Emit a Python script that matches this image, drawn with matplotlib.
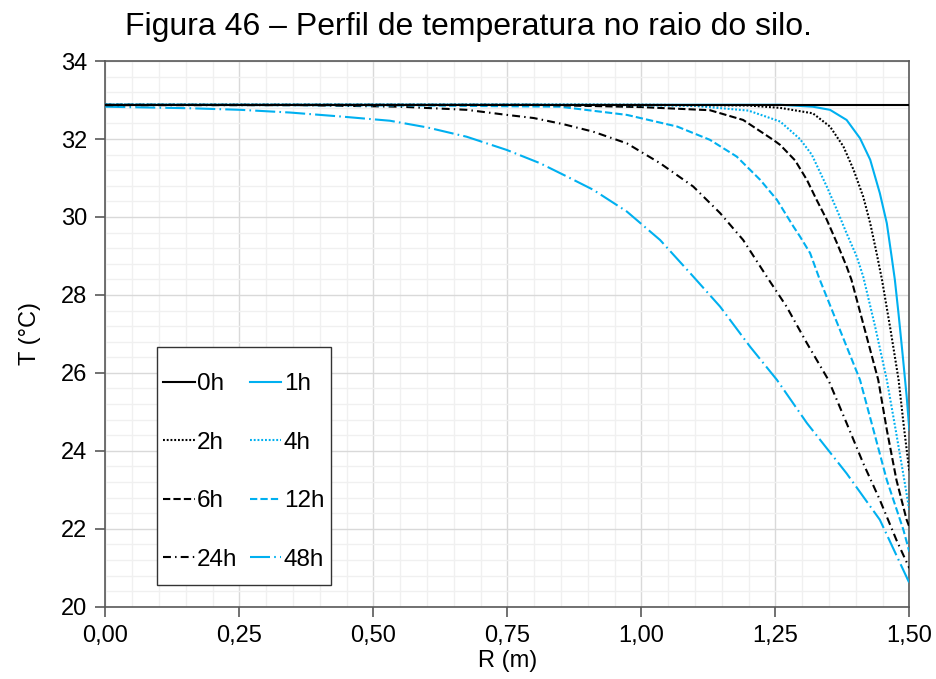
import matplotlib
matplotlib.use("Agg")
import matplotlib.pyplot as plt
from matplotlib.patches import Rectangle
from matplotlib.ticker import MultipleLocator

plt.rcParams['font.family'] = ['Liberation Sans', 'DejaVu Sans']

# Temperature profiles T(r) along the silo radius, one per elapsed time
r_0h = [0.0, 1.5]
t_0h = [32.88, 32.88]

r_1h = [0.0, 1.0, 1.259, 1.320, 1.352, 1.383, 1.408, 1.427, 1.445, 1.458, 1.467, 1.473, 1.480, 1.488, 1.495, 1.5]
t_1h = [32.88, 32.88, 32.88, 32.83, 32.75, 32.49, 32.02, 31.47, 30.61, 29.84, 28.98, 28.39, 27.50, 26.40, 25.40, 24.54]

r_2h = [0.0, 1.0, 1.2, 1.259, 1.320, 1.352, 1.377, 1.396, 1.414, 1.427, 1.439, 1.449, 1.465, 1.480, 1.490, 1.5]
t_2h = [32.88, 32.88, 32.86, 32.80, 32.66, 32.32, 31.81, 31.21, 30.52, 29.84, 29.07, 28.39, 27.10, 25.82, 24.60, 23.47]

r_4h = [0.0, 0.9, 1.1, 1.2, 1.259, 1.296, 1.318, 1.346, 1.365, 1.383, 1.402, 1.414, 1.436, 1.458, 1.475, 1.490, 1.5]
t_4h = [32.88, 32.88, 32.85, 32.73, 32.45, 32.00, 31.60, 30.78, 30.18, 29.58, 28.98, 28.47, 27.20, 25.82, 24.50, 23.30, 22.48]

r_6h = [0.0, 0.8, 1.0, 1.128, 1.190, 1.246, 1.259, 1.287, 1.309, 1.327, 1.346, 1.365, 1.383, 1.392, 1.442, 1.458, 1.476, 1.495, 1.5]
t_6h = [32.88, 32.88, 32.82, 32.74, 32.49, 31.98, 31.85, 31.45, 30.95, 30.44, 29.93, 29.33, 28.73, 28.39, 25.82, 24.54, 23.25, 22.23, 22.05]

r_12h = [0.0, 0.6, 0.848, 0.973, 1.067, 1.128, 1.178, 1.222, 1.253, 1.284, 1.296, 1.315, 1.333, 1.408, 1.433, 1.458, 1.489, 1.5]
t_12h = [32.88, 32.86, 32.83, 32.62, 32.32, 31.98, 31.55, 30.95, 30.44, 29.75, 29.50, 29.07, 28.39, 25.82, 24.54, 23.25, 21.97, 21.41]

r_24h = [0.0, 0.363, 0.550, 0.674, 0.749, 0.799, 0.855, 0.910, 0.973, 1.035, 1.097, 1.147, 1.190, 1.234, 1.271, 1.309,
         1.349, 1.383, 1.414, 1.445, 1.476, 1.5]
t_24h = [32.87, 32.87, 32.83, 32.75, 32.62, 32.54, 32.38, 32.19, 31.89, 31.38, 30.78, 30.10, 29.41, 28.47, 27.70, 26.76,
         25.82, 24.71, 23.68, 22.74, 21.71, 20.99]

r_48h = [0.0, 0.159, 0.252, 0.345, 0.438, 0.531, 0.600, 0.674, 0.749, 0.811, 0.861, 0.910, 0.973, 1.035, 1.097, 1.147,
         1.203, 1.253, 1.309, 1.383, 1.445, 1.5]
t_48h = [32.83, 32.79, 32.75, 32.68, 32.58, 32.47, 32.30, 32.06, 31.72, 31.38, 31.04, 30.70, 30.14, 29.41, 28.47, 27.70,
         26.67, 25.82, 24.71, 23.42, 22.23, 20.61]

x_ticks = [0.0, 0.25, 0.5, 0.75, 1.0, 1.25, 1.5]
x_ticklabels = ["0,00", "0,25", "0,50", "0,75", "1,00", "1,25", "1,50"]
y_ticks = [20, 22, 24, 26, 28, 30, 32, 34]

BLACK = "#000000"
BLUE = "#00B0F0"
LW = 1.5

series = [
    ("0h", r_0h, t_0h, BLACK, "-"),
    ("1h", r_1h, t_1h, BLUE, "-"),
    ("2h", r_2h, t_2h, BLACK, (0, (0.9, 0.9))),
    ("4h", r_4h, t_4h, BLUE, (0, (0.9, 0.9))),
    ("6h", r_6h, t_6h, BLACK, (0, (3.5, 1.5))),
    ("12h", r_12h, t_12h, BLUE, (0, (3.5, 1.5))),
    ("24h", r_24h, t_24h, BLACK, (0, (3.8, 2.0, 0.7, 2.0))),
    ("48h", r_48h, t_48h, BLUE, (0, (9.6, 2.0, 0.8, 2.0))),
]

fig = plt.figure(figsize=(9.36, 6.79), dpi=100)
ax = fig.add_axes([0.1125, 0.1065, 0.859, 0.8035])

# Drawing in reverse keeps the early profiles on top, as in the flat region
for i, (lab, r, t, c, ls) in enumerate(reversed(series)):
    ax.plot(r, t, color=c, lw=LW, linestyle=ls, label=lab, zorder=3 + i)

ax.set_xlim(0, 1.5)
ax.set_ylim(20, 34)
ax.set_xticks(x_ticks)
ax.set_xticklabels(x_ticklabels)
ax.set_yticks(y_ticks)
ax.xaxis.set_minor_locator(MultipleLocator(0.05))
ax.yaxis.set_minor_locator(MultipleLocator(0.4))
ax.grid(which="minor", color="#f0f0f0", lw=1.0, zorder=0)
ax.grid(which="major", color="#d9d9d9", lw=1.0, zorder=1)
ax.set_axisbelow(True)

for s in ax.spines.values():
    s.set_color("#595959")
    s.set_linewidth(1.2)
ax.tick_params(which="major", direction="out", length=7, width=1.2, color="#595959",
               labelsize=17, pad=6)
ax.tick_params(which="minor", length=0)

ax.set_xlabel("R (m)", fontsize=17, labelpad=2)
ax.set_ylabel("T (°C)", fontsize=17, labelpad=14)
fig.suptitle("Figura 46 – Perfil de temperatura no raio do silo.", fontsize=23, y=0.982)

# Legend in the lower-left corner with its own frame; entries read row by row
handles, labels = ax.get_legend_handles_labels()
hl = dict(zip(labels, handles))
order = ["0h", "2h", "6h", "24h", "1h", "4h", "12h", "48h"]
leg = ax.legend([hl[k] for k in order], order, ncol=2, loc="lower left",
                bbox_to_anchor=(0.072, 0.066), frameon=False, fontsize=17.5,
                handlelength=1.3, handletextpad=0.1, columnspacing=0.5,
                labelspacing=1.5, borderpad=0.0, borderaxespad=0.0)
leg.set_zorder(20)
ax.add_patch(Rectangle((0.064, 0.040), 0.2165, 0.436, transform=ax.transAxes,
                       facecolor="white", edgecolor="#333333", lw=1.0, zorder=15))

fig.savefig("out.png", dpi=100)
